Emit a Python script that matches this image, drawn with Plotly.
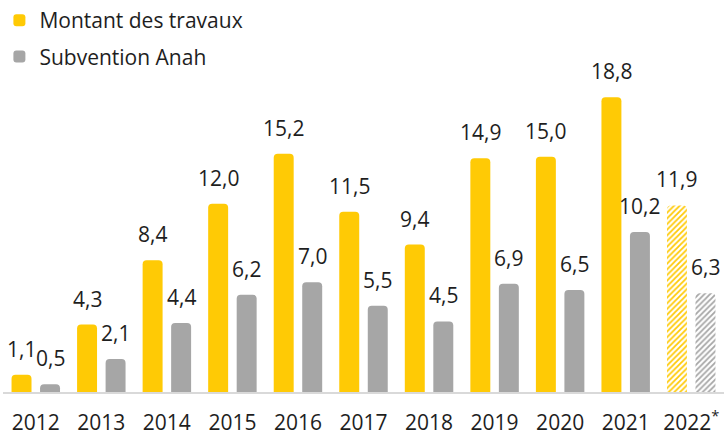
import plotly.graph_objects as go

years = ["2012", "2013", "2014", "2015", "2016", "2017", "2018", "2019", "2020", "2021", "2022<sup>*</sup>"]
montant = [1.1, 4.3, 8.4, 12.0, 15.2, 11.5, 9.4, 14.9, 15.0, 18.8, 11.9]
subvention = [0.5, 2.1, 4.4, 6.2, 7.0, 5.5, 4.5, 6.9, 6.5, 10.2, 6.3]
estimated = [False] * 10 + [True]

YELLOW = "#FFCA05"
GREY = "#A6A6A6"
TEXT = "#1E1E1E"
FONT = "Open Sans"

xpos = list(range(len(years)))

def patterns(color):
    return dict(
        shape=["/" if e else "" for e in estimated],
        fgcolor=color,
        bgcolor="white",
        size=4,
        solidity=0.45,
        fillmode="replace",
    )

fig = go.Figure()
fig.add_trace(go.Bar(
    x=xpos, y=montant, name="Montant des travaux",
    marker=dict(color=YELLOW, line=dict(width=0), pattern=patterns(YELLOW)),
    legendgroup="a", hoverinfo="skip",
))
fig.add_trace(go.Bar(
    x=xpos, y=subvention, name="Subvention Anah",
    marker=dict(color=GREY, line=dict(width=0), pattern=patterns(GREY)),
    legendgroup="b", hoverinfo="skip",
))

annotations = []
for i, m, s in zip(xpos, montant, subvention):
    for val, shift in ((m, -14.25), (s, 14.25)):
        annotations.append(dict(
            x=i, y=val, xref="x", yref="y",
            text=f"{val:.1f}".replace(".", ","),
            showarrow=False, xanchor="center", yanchor="bottom",
            xshift=shift, yshift=10,
            font=dict(family=FONT, size=21, color=TEXT),
        ))

fig.update_layout(
    width=724, height=433,
    margin=dict(l=3, r=0, t=0, b=41, autoexpand=False),
    paper_bgcolor="white", plot_bgcolor="white",
    barmode="group", bargap=0.13, bargroupgap=0.3,
    barcornerradius=4,
    font=dict(family=FONT, size=21, color=TEXT),
    showlegend=True,
    legend=dict(
        x=-0.005, y=1.0, xanchor="left", yanchor="top",
        font=dict(family=FONT, size=21, color=TEXT),
        traceorder="grouped", tracegroupgap=6,
        bgcolor="rgba(0,0,0,0)",
    ),
    xaxis=dict(
        range=[-0.5, len(years) - 0.5],
        tickmode="array", tickvals=xpos, ticktext=years,
        showgrid=False, zeroline=False, showline=True,
        linecolor="#D9D9D9", linewidth=2,
        ticks="outside", ticklen=11, tickcolor="rgba(0,0,0,0)",
        tickfont=dict(family=FONT, size=21, color=TEXT),
        fixedrange=True,
    ),
    yaxis=dict(
        range=[0, 25], visible=False, showgrid=False, zeroline=False,
        fixedrange=True,
    ),
    annotations=annotations,
)

fig.write_html(
    "out.html",
    config={"displayModeBar": False},
    post_script="document.body.style.margin='0';",
)
